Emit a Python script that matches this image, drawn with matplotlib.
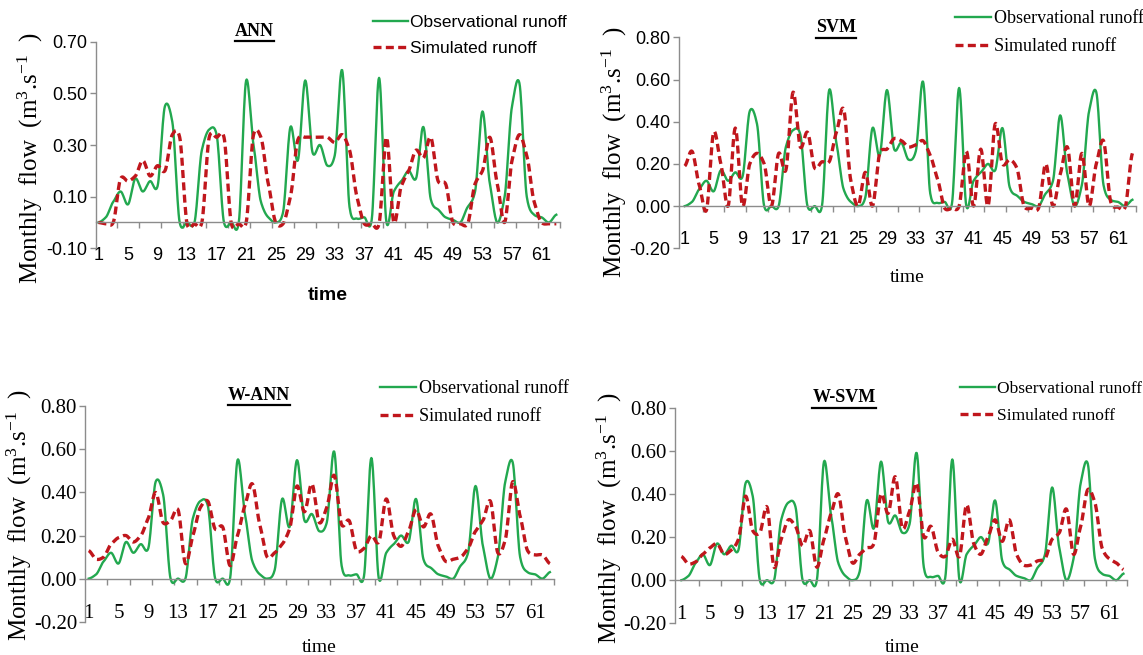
import numpy as np
import matplotlib
matplotlib.use("Agg")
import matplotlib.pyplot as plt
from matplotlib.lines import Line2D

plt.rcParams["mathtext.fontset"] = "custom"
plt.rcParams["mathtext.rm"] = "Liberation Serif"
plt.rcParams["mathtext.it"] = "Liberation Serif:italic"

# monthly flow (m3/s), 63 months
months = list(range(1, 64))

observed = [0.00, 0.02, 0.08, 0.12, 0.07, 0.17, 0.12, 0.16, 0.14, 0.45,
            0.39, 0.00, 0.00, 0.00, 0.28, 0.36, 0.34, 0.00, 0.00, 0.00,
            0.55, 0.30, 0.08, 0.02, 0.00, 0.04, 0.37, 0.24, 0.55, 0.27,
            0.30, 0.22, 0.26, 0.59, 0.06, 0.015, 0.02, 0.01, 0.56, 0.00,
            0.12, 0.16, 0.20, 0.17, 0.37, 0.09, 0.05, 0.02, 0.01, 0.00,
            0.06, 0.12, 0.43, 0.15, 0.00, 0.10, 0.45, 0.54, 0.10, 0.03,
            0.02, 0.00, 0.03]

ann_sim = [0.00, -0.005, 0.00, 0.17, 0.16, 0.18, 0.24, 0.18, 0.22, 0.20,
           0.34, 0.33, -0.005, -0.005, 0.00, 0.33, 0.33, 0.33, -0.005, -0.005,
           0.00, 0.34, 0.33, 0.15, 0.00, -0.005, 0.10, 0.32, 0.33, 0.33,
           0.33, 0.33, 0.31, 0.34, 0.28, 0.10, -0.005, -0.005, -0.005, 0.33,
           0.00, 0.14, 0.20, 0.28, 0.25, 0.33, 0.16, 0.15, 0.00, -0.005,
           -0.005, 0.15, 0.20, 0.33, 0.15, 0.00, 0.24, 0.34, 0.26, 0.08,
           0.00, -0.005, -0.005]

svm_sim = [0.19, 0.26, 0.10, -0.02, 0.35, 0.20, 0.00, 0.37, 0.00, 0.20,
           0.25, 0.20, 0.00, 0.25, 0.17, 0.54, 0.28, 0.35, 0.18, 0.21,
           0.21, 0.35, 0.46, 0.12, 0.00, 0.16, 0.00, 0.25, 0.27, 0.32,
           0.31, 0.28, 0.29, 0.31, 0.24, 0.13, -0.01, -0.01, 0.00, 0.26,
           0.00, 0.27, 0.00, 0.39, 0.20, 0.22, 0.18, 0.00, -0.01, -0.01,
           0.20, 0.00, 0.15, 0.28, 0.00, 0.25, 0.00, 0.20, 0.31, 0.02,
           -0.005, -0.005, 0.25]

wann_sim = [0.13, 0.09, 0.10, 0.16, 0.19, 0.20, 0.17, 0.20, 0.28, 0.40,
            0.26, 0.27, 0.32, 0.07, 0.20, 0.33, 0.36, 0.23, 0.24, 0.06,
            0.20, 0.34, 0.44, 0.25, 0.10, 0.12, 0.16, 0.23, 0.43, 0.31,
            0.44, 0.26, 0.33, 0.48, 0.25, 0.27, 0.13, 0.14, 0.20, 0.17,
            0.37, 0.20, 0.15, 0.22, 0.32, 0.24, 0.30, 0.15, 0.08, 0.09,
            0.10, 0.14, 0.22, 0.27, 0.36, 0.12, 0.18, 0.45, 0.29, 0.13,
            0.11, 0.11, 0.07]

wsvm_sim = [0.11, 0.075, 0.085, 0.12, 0.15, 0.17, 0.12, 0.14, 0.19, 0.39,
            0.23, 0.22, 0.34, 0.06, 0.19, 0.28, 0.25, 0.16, 0.23, 0.06,
            0.19, 0.31, 0.40, 0.20, 0.08, 0.12, 0.15, 0.17, 0.40, 0.31,
            0.48, 0.24, 0.32, 0.45, 0.20, 0.25, 0.13, 0.11, 0.19, 0.11,
            0.35, 0.17, 0.12, 0.20, 0.28, 0.18, 0.28, 0.12, 0.07, 0.07,
            0.09, 0.10, 0.19, 0.22, 0.33, 0.12, 0.25, 0.42, 0.36, 0.15,
            0.10, 0.08, 0.05]

panel_names = ["ANN", "SVM", "W-ANN", "W-SVM"]
x_tick_labels = list(range(1, 62, 4))
ann_yticks = [-0.10, 0.10, 0.30, 0.50, 0.70]
other_yticks = [-0.20, 0.00, 0.20, 0.40, 0.60, 0.80]

W, H = 1143, 655
SANS = ["Liberation Sans Narrow", "Liberation Sans", "DejaVu Sans"]
SERIF = ["Liberation Serif", "DejaVu Serif"]
GREEN = "#22a84f"
RED = "#c0161c"
AXIS = "#8c8c8c"


# smooth line like Excel's (cardinal spline through the data points)
def smooth(x, y, n=14, tension=0.3):
    x = np.asarray(x, float)
    y = np.asarray(y, float)
    p = np.concatenate([[y[0]], y, [y[-1]]])
    m = (1 - tension) * (p[2:] - p[:-2]) / 2
    t = np.linspace(0, 1, n, endpoint=False)
    h00 = 2 * t ** 3 - 3 * t ** 2 + 1
    h10 = t ** 3 - 2 * t ** 2 + t
    h01 = -2 * t ** 3 + 3 * t ** 2
    h11 = t ** 3 - t ** 2
    xs, ys = [], []
    for i in range(len(y) - 1):
        ys.append(h00 * y[i] + h10 * m[i] + h01 * y[i + 1] + h11 * m[i + 1])
        xs.append(x[i] + t * (x[i + 1] - x[i]))
    xs.append([x[-1]])
    ys.append([y[-1]])
    return np.concatenate(xs), np.concatenate(ys)


fig = plt.figure(figsize=(W / 100, H / 100), dpi=100)

# axes rectangles in pixels: left, top(ymax), right, bottom(ymin)
panels = [
    dict(name="ANN", sim=ann_sim, rect=(95.5, 41.7, 560, 248.3), xlim=(0.6, 63.4),
         ylim=(-0.10, 0.70), yticks=ann_yticks, tickfont=SANS, tsize=13,
         legfont=SANS, lsize=12.5, leg=(373, 15), title=(254, 31),
         time=(328, 295), timefont=SANS, timebold=True, ylab=(30, 158)),
    dict(name="SVM", sim=svm_sim, rect=(679, 37.3, 1136, 248.3), xlim=(0.2, 63.4),
         ylim=(-0.20, 0.80), yticks=other_yticks, tickfont=SANS, tsize=13,
         legfont=SERIF, lsize=13, leg=(955, 10), title=(836, 28),
         time=(907, 277), timefont=SERIF, timebold=False, ylab=(614, 152)),
    dict(name="W-ANN", sim=wann_sim, rect=(85.4, 406.3, 553.6, 621.7), xlim=(0.55, 63.4),
         ylim=(-0.20, 0.80), yticks=other_yticks, tickfont=SERIF, tsize=15,
         legfont=SERIF, lsize=13, leg=(380, 380), title=(259, 395),
         time=(319.5, 647), timefont=SERIF, timebold=False, ylab=(19, 515)),
    dict(name="W-SVM", sim=wsvm_sim, rect=(675, 407.7, 1127, 623.3), xlim=(0.1, 63.5),
         ylim=(-0.20, 0.80), yticks=other_yticks, tickfont=SERIF, tsize=15,
         legfont=SERIF, lsize=12.5, leg=(960, 381), title=(844, 398),
         time=(902, 647), timefont=SERIF, timebold=False, ylab=(609, 518)),
]

titles = []
for p in panels:
    l, t, r, b = p["rect"]
    ax = fig.add_axes([l / W, 1 - b / H, (r - l) / W, (b - t) / H])
    ax.set_facecolor("none")

    xo, yo = smooth(months, observed)
    xs, ys = smooth(months, p["sim"])
    h1, = ax.plot(xo, yo, color=GREEN, lw=1.7, label="Observational runoff")
    h2, = ax.plot(xs, ys, color=RED, lw=2.4, linestyle=(0, (2.4, 1.3)),
                  label="Simulated runoff")

    ax.set_xlim(*p["xlim"])
    ax.set_ylim(*p["ylim"])
    for s in ("top", "right"):
        ax.spines[s].set_visible(False)
    ax.spines["bottom"].set_position(("data", 0))
    for s in ("left", "bottom"):
        ax.spines[s].set_color(AXIS)
        ax.spines[s].set_linewidth(1.0)

    ax.set_xticks(x_tick_labels)
    ax.set_xticklabels([str(v) for v in x_tick_labels])
    ax.set_xticks(np.arange(3.5, 63.6, 3), minor=True)
    ax.tick_params(axis="x", which="major", length=0, pad=18)
    ax.tick_params(axis="x", which="minor", length=4, color=AXIS, width=1)
    ax.set_yticks(p["yticks"])
    ax.set_yticklabels([f"{v:.2f}" for v in p["yticks"]])
    ax.tick_params(axis="y", length=4, color=AXIS, width=1, pad=2)
    for lab in ax.get_xticklabels() + ax.get_yticklabels():
        lab.set_family(p["tickfont"])
        lab.set_fontsize(p["tsize"])

    fig.text(p["ylab"][0] / W, 1 - p["ylab"][1] / H,
             r"Monthly  flow  (m$^{3}$.s$^{-1}$  )", rotation=90,
             ha="center", va="center", family=SERIF, fontsize=18)
    fig.text(p["time"][0] / W, 1 - p["time"][1] / H, "time", ha="center",
             va="center", family=p["timefont"], fontsize=14,
             fontweight="bold" if p["timebold"] else "normal")

    tt = fig.text(p["title"][0] / W, 1 - p["title"][1] / H, p["name"],
                  ha="center", va="center", family=SERIF, fontsize=13,
                  fontweight="bold")
    titles.append(tt)

    fig.legend([h1, h2], ["Observational runoff", "Simulated runoff"],
               loc="upper left", bbox_to_anchor=(p["leg"][0] / W, 1 - p["leg"][1] / H),
               frameon=False, borderpad=0, borderaxespad=0, handlelength=2.0,
               handletextpad=0.15, labelspacing=0.6,
               prop={"family": p["legfont"], "size": p["lsize"]})

# underline the panel titles
fig.canvas.draw()
renderer = fig.canvas.get_renderer()
for tt in titles:
    bb = tt.get_window_extent(renderer)
    yline = (bb.y0 - 1) / H
    fig.add_artist(Line2D([bb.x0 / W, bb.x1 / W], [yline, yline],
                          transform=fig.transFigure, color="black", lw=1.6))

fig.savefig("out.png", dpi=100)
